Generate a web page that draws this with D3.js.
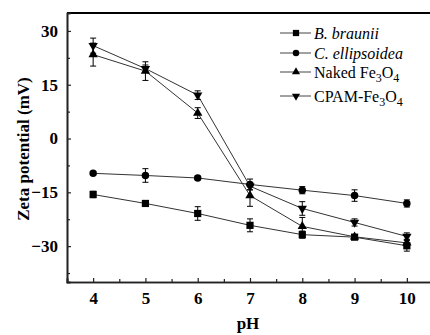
<!DOCTYPE html>
<html>
<head>
<meta charset="utf-8">
<script src="https://cdn.jsdelivr.net/npm/d3@7"></script>
<style>
  body { margin: 0; background: #fff; }
  text { font-family: "Liberation Serif", serif; }
</style>
</head>
<body>
<svg id="chart" width="430" height="335"></svg>
<script>
// data
const pH = [4, 5, 6, 7, 8, 9, 10];
const braunii = [-15.6, -18.1, -20.9, -24.2, -26.8, -27.5, -29.9];
const brauniiErr = [0.9, 0.5, 1.9, 1.8, 1.0, 0.5, 1.5];
const ellipsoidea = [-9.7, -10.3, -11.0, -12.8, -14.4, -15.9, -18.1];
const ellipsoideaErr = [0.5, 1.9, 0.5, 1.5, 1.0, 1.6, 1.0];
const naked = [23.4, 18.8, 7.1, -15.9, -24.5, -27.4, -29.1];
const nakedErr = [3.2, 2.6, 1.5, 3.0, 2.5, 0.5, 1.0];
const cpam = [25.9, 19.5, 12.1, -13.3, -19.5, -23.4, -27.3];
const cpamErr = [2.1, 1.0, 1.2, 1.0, 1.9, 1.0, 1.0];
const yTicks = [-30, -15, 0, 15, 30];
const xTicks = [4, 5, 6, 7, 8, 9, 10];

const series = [
  { name: 'B. braunii', values: braunii, err: brauniiErr, symbol: d3.symbolSquare, size: 52, rot: 0 },
  { name: 'C. ellipsoidea', values: ellipsoidea, err: ellipsoideaErr, symbol: d3.symbolCircle, size: 44, rot: 0 },
  { name: 'Naked Fe', sub: true, values: naked, err: nakedErr, symbol: d3.symbolTriangle, size: 38, rot: 0 },
  { name: 'CPAM-Fe', sub: true, values: cpam, err: cpamErr, symbol: d3.symbolTriangle, size: 38, rot: 180 }
];

const mLeft = 67, mTop = 13, mRight = 433, mBottom = 282;
const svg = d3.select('#chart');

const x = d3.scaleLinear().domain([3.5, 10.5]).range([mLeft, mRight]);
const y = d3.scaleLinear().domain([-40, 35]).range([mBottom, mTop]);

// frame top
svg.append('line')
  .attr('x1', mLeft).attr('x2', mRight).attr('y1', mTop).attr('y2', mTop)
  .attr('stroke', '#000').attr('stroke-width', 2);

// axes with inward ticks
svg.append('g').attr('transform', `translate(0,${mBottom})`)
  .call(d3.axisBottom(x).tickValues(xTicks).tickSize(-4).tickPadding(10).tickFormat(d3.format('d')));
svg.append('g').attr('transform', `translate(0,${mBottom})`)
  .call(d3.axisBottom(x).tickValues(d3.range(4.5, 10.5, 1)).tickSize(-3).tickFormat(''));
svg.append('g').attr('transform', `translate(${mLeft},0)`)
  .call(d3.axisLeft(y).tickValues(yTicks).tickSize(-4).tickPadding(9).tickFormat(d3.format('d')));
svg.append('g').attr('transform', `translate(${mLeft},0)`)
  .call(d3.axisLeft(y).tickValues([-37.5, -22.5, -7.5, 7.5, 22.5]).tickSize(-3).tickFormat(''));

svg.selectAll('.domain').attr('stroke', '#222').attr('stroke-width', 1.6);
svg.selectAll('.tick line').attr('stroke', '#222').attr('stroke-width', 1.2);
svg.selectAll('.tick text')
  .attr('font-size', 17).attr('font-weight', 'bold').attr('fill', '#000');

// axis titles
svg.append('text')
  .attr('x', 248).attr('y', 329)
  .attr('text-anchor', 'middle')
  .attr('font-size', 17).attr('font-weight', 'bold')
  .text('pH');
svg.append('text')
  .attr('transform', 'translate(29,149) rotate(-90)')
  .attr('text-anchor', 'middle')
  .attr('font-size', 17).attr('font-weight', 'bold')
  .text('Zeta potential (mV)');

const line = d3.line().x((d, i) => x(pH[i])).y(d => y(d));

const plot = svg.append('g');
series.forEach(s => {
  plot.append('path')
    .datum(s.values)
    .attr('d', line)
    .attr('fill', 'none')
    .attr('stroke', '#333')
    .attr('stroke-width', 1);

  // error bars
  const eb = plot.append('g').selectAll('g').data(s.values).join('g');
  eb.append('line')
    .attr('x1', (d, i) => x(pH[i])).attr('x2', (d, i) => x(pH[i]))
    .attr('y1', (d, i) => y(d - s.err[i])).attr('y2', (d, i) => y(d + s.err[i]))
    .attr('stroke', '#000').attr('stroke-width', 1);
  [-1, 1].forEach(sign => {
    eb.append('line')
      .attr('x1', (d, i) => x(pH[i]) - 3).attr('x2', (d, i) => x(pH[i]) + 3)
      .attr('y1', (d, i) => y(d + sign * s.err[i])).attr('y2', (d, i) => y(d + sign * s.err[i]))
      .attr('stroke', '#000').attr('stroke-width', 1);
  });

  plot.append('g').selectAll('path').data(s.values).join('path')
    .attr('d', d3.symbol().type(s.symbol).size(s.size))
    .attr('transform', (d, i) => `translate(${x(pH[i])},${y(d)}) rotate(${s.rot})`)
    .attr('fill', '#000');
});

// legend
const legendY = [33, 53, 72, 96];
const lg = svg.append('g');
series.forEach((s, k) => {
  const g = lg.append('g').attr('transform', `translate(280,${legendY[k]})`);
  g.append('line').attr('x1', 0).attr('x2', 31).attr('stroke', '#444').attr('stroke-width', 1);
  g.append('path')
    .attr('d', d3.symbol().type(s.symbol).size(s.size * 0.75))
    .attr('transform', `translate(16,0) rotate(${s.rot})`)
    .attr('fill', '#000');
  const t = g.append('text').attr('x', 34).attr('dy', '0.35em')
    .attr('font-size', 16).attr('fill', '#000');
  if (s.sub) {
    t.append('tspan').text(s.name);
    t.append('tspan').attr('font-size', 12).attr('dy', 4).text('3');
    t.append('tspan').attr('font-size', 16).attr('dy', -4).text('O');
    t.append('tspan').attr('font-size', 12).attr('dy', 4).text('4');
  } else {
    t.attr('font-style', 'italic').text(s.name);
  }
});
</script>
</body>
</html>
